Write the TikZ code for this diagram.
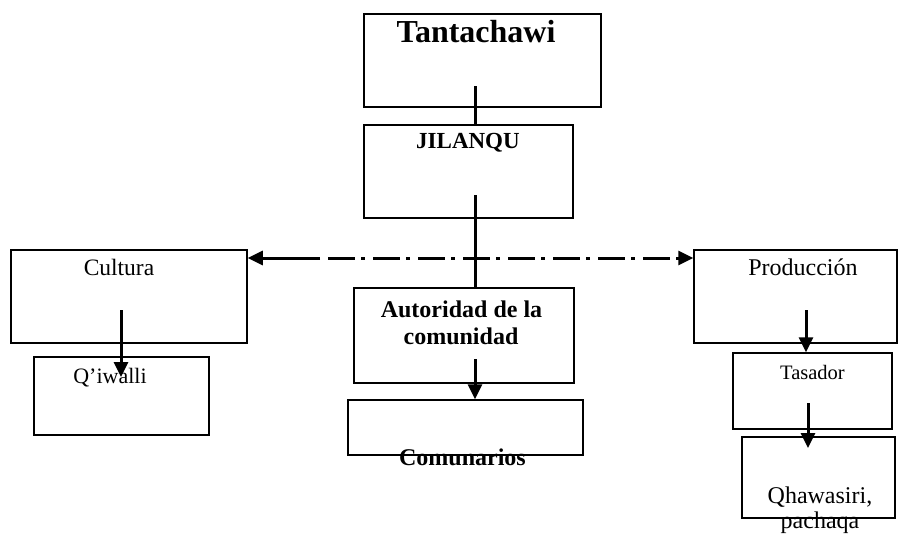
\documentclass[tikz,border=0pt]{standalone}
\usepackage{fontspec}
\setmainfont{Liberation Serif}
\usetikzlibrary{arrows.meta}
\tikzset{
  box/.style={draw, line width=1.5pt, rectangle, inner sep=0pt},
  lbl/.style={inner sep=0pt, anchor=base},
  conn/.style={line width=3pt},
  arr/.style={line width=3pt, -{Triangle[length=15pt,width=14pt]}},
  dashdot/.style={dash pattern=on 27pt off 6pt on 4pt off 8pt, dash phase=37pt}
}
\newcommand{\fs}[1]{\fontsize{#1}{#1}\selectfont}
\begin{document}
\begin{tikzpicture}[x=1pt,y=-1pt]
\useasboundingbox (0,0) rectangle (898,536);
% boxes
\node[box, minimum width=237pt, minimum height=93pt] (tan) at (482.5,60.5) {};
\node[box, minimum width=209pt, minimum height=93pt] (jil) at (468.5,171.5) {};
\node[box, minimum width=236pt, minimum height=93pt] (cul) at (129,296.5) {};
\node[box, minimum width=175pt, minimum height=78pt] (qiw) at (121.5,396) {};
\node[box, minimum width=220pt, minimum height=95pt] (aut) at (464,335.5) {};
\node[box, minimum width=235pt, minimum height=55pt] (com) at (465.5,427.5) {};
\node[box, minimum width=203pt, minimum height=93pt] (pro) at (795.5,296.5) {};
\node[box, minimum width=159pt, minimum height=76pt] (tas) at (812.5,391) {};
\node[box, minimum width=153pt, minimum height=81pt] (qha) at (818.5,477.5) {};
% texts
\node[lbl] (tTan) at (476,42) {\fs{32}\bfseries Tantachawi};
\node[lbl] (tJil) at (468,148) {\fs{23}\bfseries JILANQU};
\node[lbl] (tCul) at (119,275) {\fs{23.5}Cultura};
\node[lbl] (tQiw) at (110,383) {\fs{22}Q’iwalli};
\node[lbl] (tAut1) at (461.5,317) {\fs{24}\bfseries Autoridad de la};
\node[lbl] (tAut2) at (461,344) {\fs{24}\bfseries comunidad};
\node[lbl] (tCom) at (462.5,465) {\fs{24}\bfseries Comunarios};
\node[lbl] (tPro) at (803,275) {\fs{24}Producción};
\node[lbl] (tTas) at (812.5,379) {\fs{20.5}Tasador};
\node[lbl] (tQha1) at (820,503) {\fs{24}Qhawasiri,};
\node[lbl] (tQha2) at (820,528) {\fs{24}pachaqa};
% connector endpoints
\coordinate (c1) at (475,86);
\coordinate (c2) at (475,195);
\coordinate (hl) at (320,258);
\coordinate (c3) at (121,310);
\coordinate (c3e) at (121,377);
\coordinate (c4) at (475,359);
\coordinate (c5) at (806,310);
\coordinate (c6) at (808,403);
\coordinate (c6e) at (808,448);
% connectors
\draw[conn] (c1) -- (c1 |- jil.north);
\draw[conn] (c2) -- (c2 |- aut.north);
\draw[arr] (hl) -- (hl -| cul.east);
\draw[arr, dashdot] (hl) -- (hl -| pro.west);
\draw[arr] (c3) -- (c3e);
\draw[arr] (c4) -- (c4 |- com.north);
\draw[arr] (c5) -- (c5 |- tas.north);
\draw[arr] (c6) -- (c6e);
\end{tikzpicture}
\end{document}
